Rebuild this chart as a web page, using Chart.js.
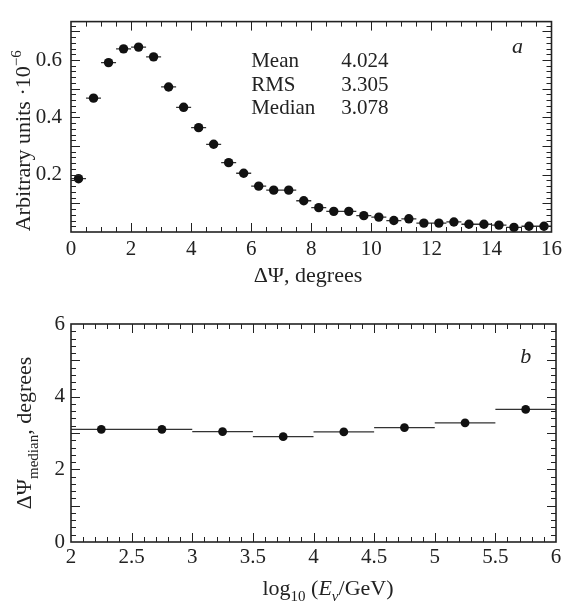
<!DOCTYPE html>
<html>
<head>
    <title>Angular resolution</title>
    <script src="https://cdn.jsdelivr.net/npm/chart.js"></script>
    <style>
        body { margin: 0; background: #fff; }
        .panel { position: absolute; left: 0; width: 567px; }
        #panelA { top: 0; height: 300px; }
        #panelB { top: 300px; height: 305px; }
    </style>
</head>
<body>
    <div class="panel" id="panelA"><canvas id="psiChart"></canvas></div>
    <div class="panel" id="panelB"><canvas id="medianChart"></canvas></div>

    <script>
        // Panel a: distribution of the angle, 0.5 degree bins
        const psiBins = [0.25, 0.75, 1.25, 1.75, 2.25, 2.75, 3.25, 3.75, 4.25, 4.75, 5.25, 5.75,
                         6.25, 6.75, 7.25, 7.75, 8.25, 8.75, 9.25, 9.75, 10.25, 10.75, 11.25, 11.75,
                         12.25, 12.75, 13.25, 13.75, 14.25, 14.75, 15.25, 15.75];
        const psiValues = [0.186, 0.467, 0.591, 0.639, 0.645, 0.611, 0.506, 0.435, 0.364, 0.306, 0.242, 0.205,
                           0.160, 0.146, 0.146, 0.109, 0.085, 0.072, 0.072, 0.057, 0.052, 0.040, 0.046, 0.031,
                           0.031, 0.035, 0.027, 0.027, 0.024, 0.016, 0.020, 0.020];
        const psiHalfBin = 0.25;
        const psiXTicks = [0, 2, 4, 6, 8, 10, 12, 14, 16];
        const psiYTicks = [0.2, 0.4, 0.6];
        const statNames = ['Mean', 'RMS', 'Median'];
        const statValues = ['4.024', '3.305', '3.078'];

        // Panel b: median angle vs energy
        const logELow = [2.0, 2.5, 3.0, 3.5, 4.0, 4.5, 5.0, 5.5];
        const logEHigh = [2.5, 3.0, 3.5, 4.0, 4.5, 5.0, 5.5, 6.0];
        const logECenters = [2.25, 2.75, 3.25, 3.75, 4.25, 4.75, 5.25, 5.75];
        const medianValues = [3.10, 3.10, 3.04, 2.90, 3.03, 3.15, 3.28, 3.65];
        const logETicks = [2, 2.5, 3, 3.5, 4, 4.5, 5, 5.5, 6];
        const medianTicks = [0, 2, 4, 6];

        const SERIF = "'Liberation Serif', 'DejaVu Serif', serif";
        const INK = '#222';

        // text made of pieces: normal / italic / sub / sup
        function drawRich(ctx, parts, x, y, size, rotate) {
            ctx.save();
            ctx.translate(x, y);
            if (rotate) ctx.rotate(-Math.PI / 2);
            ctx.fillStyle = INK;
            ctx.textBaseline = 'alphabetic';
            ctx.textAlign = 'left';
            const fontOf = p => (p.italic ? 'italic ' : '') + Math.round(size * (p.scale || 1)) + 'px ' + SERIF;
            const widths = parts.map(p => { ctx.font = fontOf(p); return ctx.measureText(p.t).width; });
            let cx = -widths.reduce((a, b) => a + b, 0) / 2;
            parts.forEach((p, i) => {
                ctx.font = fontOf(p);
                ctx.fillText(p.t, cx, (p.dy || 0) * size);
                cx += widths[i];
            });
            ctx.restore();
        }

        // box around the plot with inward ticks on all four sides
        const frameTicks = {
            id: 'frameTicks',
            afterDatasetsDraw(chart, args, o) {
                const { ctx, chartArea: a, scales: { x, y } } = chart;
                ctx.save();
                ctx.strokeStyle = INK;
                ctx.lineWidth = 1;
                const isMajor = (v, step) => Math.abs(v / step - Math.round(v / step)) < 1e-6;
                ctx.beginPath();
                const nx = Math.round((x.max - x.min) / o.xMinor);
                for (let i = 1; i < nx; i++) {
                    const v = x.min + i * o.xMinor;
                    const len = isMajor(v, o.xMajor) ? 9 : 5;
                    const px = Math.round(x.getPixelForValue(v)) + 0.5;
                    ctx.moveTo(px, a.bottom); ctx.lineTo(px, a.bottom - len);
                    ctx.moveTo(px, a.top); ctx.lineTo(px, a.top + len);
                }
                const ny = Math.floor((y.max - y.min) / o.yMinor + 1e-6);
                for (let i = 1; i <= ny; i++) {
                    const v = y.min + i * o.yMinor;
                    if (v >= y.max - 1e-9) break;
                    const len = isMajor(v, o.yMajor) ? 9 : 5;
                    const py = Math.round(y.getPixelForValue(v)) + 0.5;
                    ctx.moveTo(a.left, py); ctx.lineTo(a.left + len, py);
                    ctx.moveTo(a.right, py); ctx.lineTo(a.right - len, py);
                }
                ctx.stroke();
                ctx.lineWidth = 1.6;
                ctx.strokeRect(a.left, a.top, a.right - a.left, a.bottom - a.top);
                ctx.restore();
            }
        };

        // horizontal bars showing the bin width of each point
        const binBars = {
            id: 'binBars',
            beforeDatasetsDraw(chart, args, o) {
                const { ctx, scales: { x, y } } = chart;
                ctx.save();
                ctx.strokeStyle = '#333';
                ctx.lineWidth = 1.3;
                ctx.beginPath();
                o.low.forEach((lo, i) => {
                    const py = y.getPixelForValue(o.values[i]);
                    ctx.moveTo(x.getPixelForValue(lo), py);
                    ctx.lineTo(x.getPixelForValue(o.high[i]), py);
                });
                ctx.stroke();
                ctx.restore();
            }
        };

        // axis titles and the little labels inside the box
        const labels = {
            id: 'labels',
            afterDraw(chart, args, o) {
                const { ctx, chartArea: a, scales: { x, y } } = chart;
                o.titles.forEach(t => drawRich(ctx, t.parts, a.left + t.dx, t.rotate ? (a.top + a.bottom) / 2 + t.dy : a.bottom + t.dy, t.size, t.rotate));
                ctx.save();
                ctx.fillStyle = INK;
                ctx.textBaseline = 'alphabetic';
                (o.notes || []).forEach(n => {
                    ctx.font = (n.italic ? 'italic ' : '') + n.size + 'px ' + SERIF;
                    ctx.textAlign = n.align || 'left';
                    ctx.fillText(n.text, x.getPixelForValue(n.x), y.getPixelForValue(n.y) + (n.dy || 0));
                });
                ctx.restore();
            }
        };

        function axisOpts(min, max, tickValues, fit, pad, fmt) {
            return {
                type: 'linear', min: min, max: max,
                grid: { display: false, drawTicks: false },
                border: { display: false },
                afterBuildTicks: s => { s.ticks = tickValues.map(v => ({ value: v })); },
                afterFit: fit,
                ticks: {
                    padding: pad, color: INK, font: { family: SERIF, size: 21 },
                    callback: fmt || (v => String(v))
                }
            };
        }

        const common = {
            responsive: true,
            maintainAspectRatio: false,
            animation: false,
            devicePixelRatio: 1,
            events: [],
            plugins: { legend: { display: false }, tooltip: { enabled: false } }
        };

        const statNotes = [];
        statNames.forEach((n, i) => {
            statNotes.push({ text: n, x: 6.0, y: 0.6, dy: 7 + i * 23.5, size: 21 });
            statNotes.push({ text: statValues[i], x: 9.0, y: 0.6, dy: 7 + i * 23.5, size: 21 });
        });
        statNotes.push({ text: 'a', x: 14.87, y: 0.6, dy: -7, size: 22, italic: true, align: 'center' });

        new Chart(document.getElementById('psiChart'), {
            type: 'scatter',
            data: {
                datasets: [{
                    data: psiBins.map((b, i) => ({ x: b, y: psiValues[i] })),
                    backgroundColor: '#111', borderWidth: 0, pointRadius: 4.7
                }]
            },
            options: Object.assign({}, common, {
                layout: { padding: { left: 0, right: 12, top: 14, bottom: 0 } },
                scales: {
                    x: axisOpts(0, 16, psiXTicks, s => { s.height = 68; }, 5),
                    y: axisOpts(0, 0.734, psiYTicks, s => { s.width = 71; }, 9, v => v.toFixed(1))
                },
                plugins: Object.assign({}, common.plugins, {
                    frameTicks: { xMinor: 0.5, xMajor: 2, yMinor: 0.02, yMajor: 0.1 },
                    binBars: {
                        low: psiBins.map(b => b - psiHalfBin),
                        high: psiBins.map(b => b + psiHalfBin),
                        values: psiValues
                    },
                    labels: {
                        titles: [
                            { parts: [{ t: 'ΔΨ, degrees' }], dx: 237, dy: 50, size: 22 },
                            { parts: [{ t: 'Arbitrary units ·10' }, { t: '−6', scale: 0.7, dy: -0.42 }],
                              dx: -41, dy: 14, size: 22, rotate: true }
                        ],
                        notes: statNotes
                    }
                })
            }),
            plugins: [binBars, frameTicks, labels]
        });

        new Chart(document.getElementById('medianChart'), {
            type: 'scatter',
            data: {
                datasets: [{
                    data: logECenters.map((c, i) => ({ x: c, y: medianValues[i] })),
                    backgroundColor: '#111', borderWidth: 0, pointRadius: 4.4
                }]
            },
            options: Object.assign({}, common, {
                layout: { padding: { left: 0, right: 11, top: 24, bottom: 0 } },
                scales: {
                    x: axisOpts(2, 6, logETicks, s => { s.height = 63; }, 3),
                    y: axisOpts(0, 6, medianTicks, s => { s.width = 71; }, 6)
                },
                plugins: Object.assign({}, common.plugins, {
                    frameTicks: { xMinor: 0.1, xMajor: 0.5, yMinor: 0.2, yMajor: 1 },
                    binBars: { low: logELow, high: logEHigh, values: medianValues },
                    labels: {
                        titles: [
                            { parts: [{ t: 'log' }, { t: '10', scale: 0.7, dy: 0.25 }, { t: ' (' },
                                      { t: 'E', italic: true }, { t: 'ν', italic: true, scale: 0.7, dy: 0.25 },
                                      { t: '/GeV)' }],
                              dx: 257, dy: 53, size: 22 },
                            { parts: [{ t: 'ΔΨ' }, { t: 'median', scale: 0.7, dy: 0.3 }, { t: ', degrees' }],
                              dx: -40, dy: 0, size: 22, rotate: true }
                        ],
                        notes: [{ text: 'b', x: 5.75, y: 4.93, size: 22, italic: true, align: 'center' }]
                    }
                })
            }),
            plugins: [binBars, frameTicks, labels]
        });
    </script>
</body>
</html>
